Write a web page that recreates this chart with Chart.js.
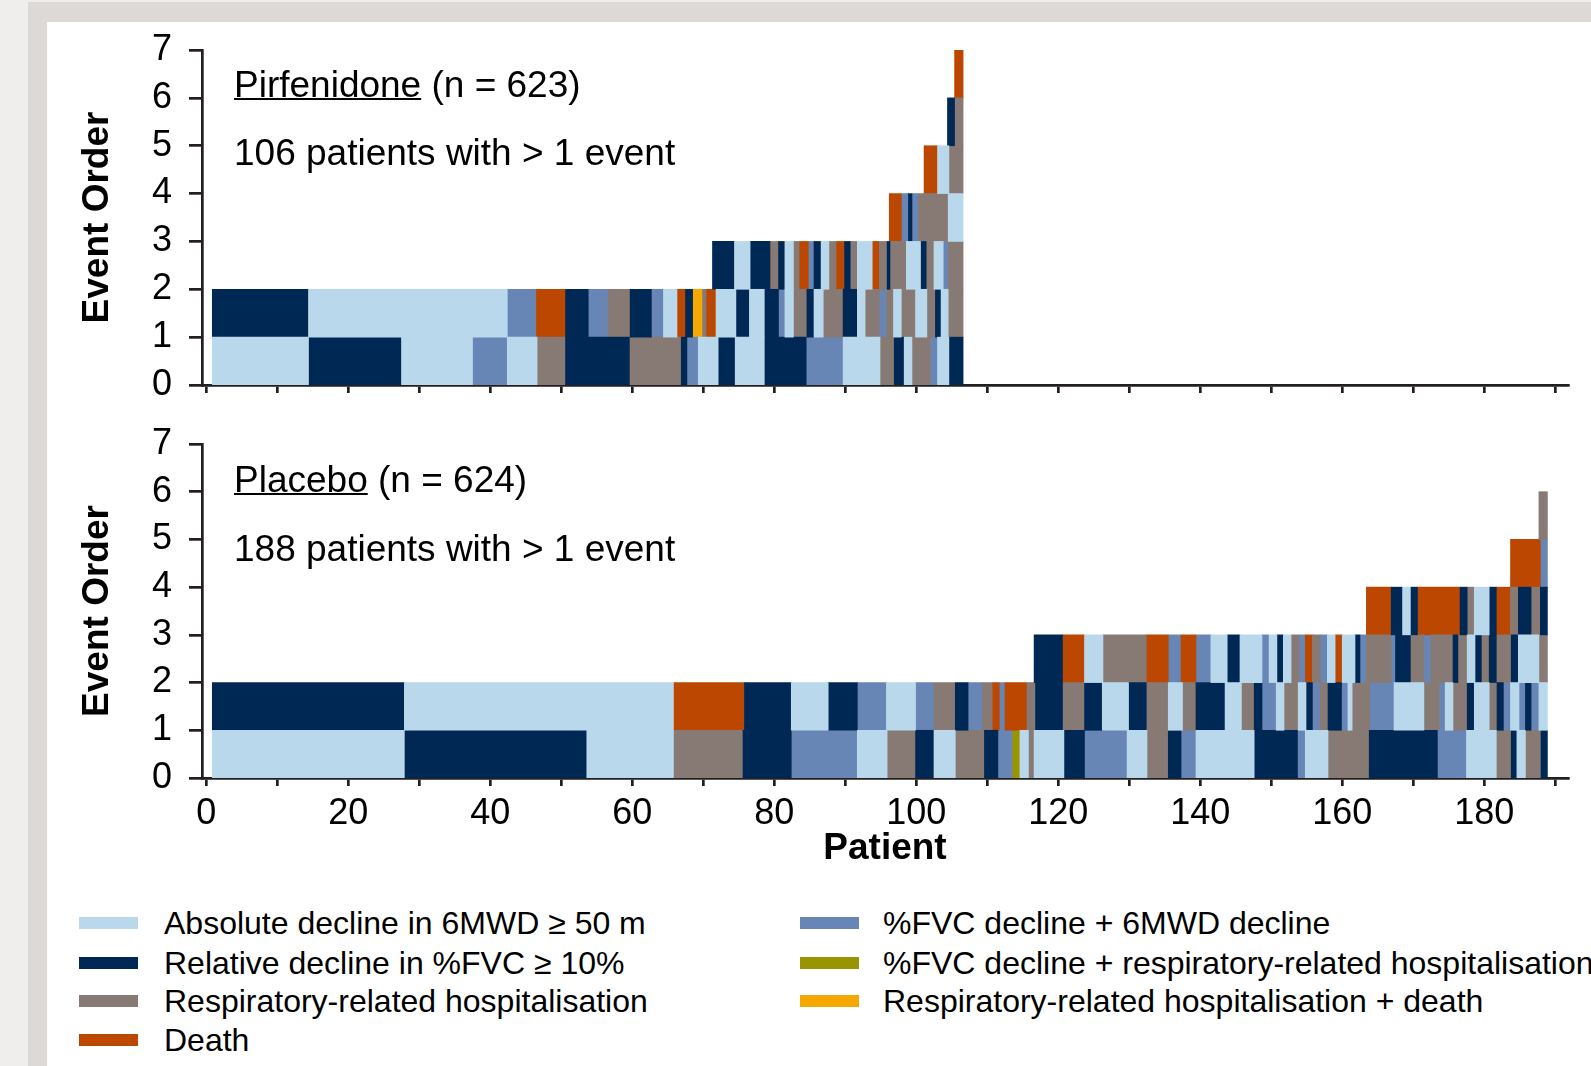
<!DOCTYPE html>
<html>
<head>
<meta charset="utf-8">
<script src="https://cdn.jsdelivr.net/npm/chart.js@4/dist/chart.umd.min.js"></script>
<style>
  html, body { margin: 0; padding: 0; }
  body { width: 1591px; height: 1066px; position: relative; overflow: hidden; background: #F0EEED;
         font-family: "Liberation Sans", Arial, sans-serif; color: #000; }
  #frame { position: absolute; left: 28px; top: 2px; right: 0; bottom: 0; background: #DDD9D6; }
  #panel { position: absolute; left: 47px; top: 22px; right: 0; bottom: 0; background: #fff; }
  .box { position: absolute; left: 0; width: 1591px; }
  .note { position: absolute; font-size: 37px; line-height: 37px; white-space: nowrap; }
  .note u { text-decoration-thickness: 2px; }
  .leg { position: absolute; font-size: 32px; line-height: 32px; white-space: nowrap; }
  .sw { position: absolute; width: 59px; height: 12px; }
</style>
</head>
<body>
<div id="frame"></div>
<div id="panel"></div>
<div class="box" style="top:0;height:430px"><canvas id="chart-pirf"></canvas></div>
<div class="box" style="top:400px;height:480px"><canvas id="chart-plac"></canvas></div>
<div class="note" style="left:234px;top:66px"><u>Pirfenidone</u> (n = 623)</div>
<div class="note" style="left:234px;top:134px">106 patients with &gt; 1 event</div>
<div class="note" style="left:234px;top:461px"><u>Placebo</u> (n = 624)</div>
<div class="note" style="left:234px;top:530px">188 patients with &gt; 1 event</div>
<div id="legend"></div>
<script>
const FONT = '"Liberation Sans", Arial, sans-serif';
const INK = '#231F20';

// event types: A 6MWD, F %FVC, H hospitalisation, D death, M FVC+6MWD, O FVC+hosp, Y hosp+death
const eventTypes = ['A', 'F', 'H', 'D', 'M', 'O', 'Y'];
const eventLabels = [
  'Absolute decline in 6MWD \u2265 50 m',
  'Relative decline in %FVC \u2265 10%',
  'Respiratory-related hospitalisation',
  'Death',
  '%FVC decline + 6MWD decline',
  '%FVC decline + respiratory-related hospitalisation',
  'Respiratory-related hospitalisation + death'
];
const eventColors = ['#B9D8EB', '#002855', '#877A75', '#BB4700', '#6886B5', '#989500', '#F5A800'];

// Pirfenidone: segment edges (patient axis) per event order, and the type of each segment
const pirfEdges = [
  [0.85, 14.4, 27.5, 37.5, 42.4, 46.6, 50.6, 59.6, 66.9, 67.7, 69.3, 72.1, 74.5, 78.6, 84.5, 89.7, 94.9, 96.9, 98.3, 99.4, 102.0, 103.0, 104.6, 106.6],
  [0.85, 14.4, 42.4, 46.5, 50.6, 53.8, 56.6, 59.7, 62.7, 64.4, 66.3, 67.5, 68.5, 69.9, 70.4, 71.8, 74.6, 76.5, 78.6, 80.6, 81.5, 82.7, 84.6, 85.6, 86.9, 89.7, 91.7, 92.8, 94.8, 95.8, 96.8, 97.9, 99.9, 101.5, 102.7, 103.5, 104.5, 106.6],
  [71.3, 74.4, 76.6, 79.4, 80.6, 81.5, 82.7, 83.5, 84.8, 85.6, 86.6, 87.7, 88.7, 89.9, 90.7, 91.7, 93.8, 94.8, 95.9, 96.3, 98.6, 100.6, 101.4, 102.5, 103.8, 104.5, 106.6],
  [96.2, 97.9, 98.9, 99.4, 100.3, 104.5, 106.6],
  [101.1, 103.0, 104.6, 106.6],
  [104.4, 105.4, 106.6],
  [105.4, 106.6]
];
const pirfTypes = [
  'AFAMAHFHFMAFAFMAHFAHMAF',
  'FAMDFMHFMADFYHDAFAFMAHFAHFAHMHAHAHFAH',
  'FAFHFAHDMFAHDFHADHFHAFHAMH',
  'DMFMHA',
  'DAH',
  'FH',
  'D'
];

// Placebo
const placEdges = [
  [0.85, 27.9, 53.6, 65.8, 75.6, 82.4, 91.7, 95.9, 99.9, 102.5, 105.5, 109.6, 111.5, 113.5, 114.6, 115.8, 116.6, 120.8, 123.7, 129.7, 132.5, 135.5, 137.3, 139.4, 147.6, 153.7, 154.8, 158.0, 163.8, 173.4, 177.5, 181.7, 183.8, 184.6, 185.8, 188.0, 188.9],
  [0.85, 27.9, 65.8, 75.8, 82.4, 87.6, 91.7, 95.8, 99.9, 102.5, 105.5, 107.3, 109.3, 110.7, 111.7, 112.5, 115.6, 116.8, 120.6, 123.7, 126.2, 129.9, 132.4, 135.5, 137.5, 139.4, 143.5, 145.8, 147.6, 148.7, 150.7, 151.8, 153.8, 154.9, 155.8, 156.9, 158.0, 159.9, 160.8, 161.4, 163.9, 167.3, 171.5, 173.7, 174.5, 175.6, 177.6, 178.6, 180.7, 181.8, 182.7, 183.7, 184.9, 185.8, 186.6, 187.7, 188.9],
  [116.6, 120.6, 123.7, 126.3, 132.4, 135.5, 137.3, 139.4, 141.5, 143.8, 145.6, 148.7, 149.7, 150.8, 151.7, 152.8, 153.9, 154.8, 155.8, 156.9, 157.9, 159.0, 160.0, 161.8, 162.5, 163.4, 166.9, 167.5, 169.6, 171.5, 172.5, 175.6, 176.3, 177.6, 178.7, 179.6, 180.7, 181.7, 183.8, 184.8, 187.7, 188.9],
  [163.4, 166.9, 168.5, 169.6, 170.6, 176.6, 177.6, 178.6, 180.7, 181.7, 183.7, 184.8, 186.6, 187.9, 188.9],
  [183.7, 187.9, 188.9],
  [187.7, 188.9]
];
const placTypes = [
  'AFAHFMAHFAHFMOAHAFMAHFMAFMAHFMAHFAHF',
  'FADFAFMAMHFMHDMDHFHFAFHAHFAHFMAHAFMHFMAHMAHMAHFAHFMAMFMA',
  'FDAHDMDMAFAMAFAHMDHMADAFMHMFHMHFHAFHFHFAH',
  'DFAFDFHAFDHFHF',
  'DM',
  'H'
];

const yTickValues = [0, 1, 2, 3, 4, 5, 6, 7];
const xTickValues = [0, 10, 20, 30, 40, 50, 60, 70, 80, 90, 100, 110, 120, 130, 140, 150, 160, 170, 180, 190];
const xTickLabels = ['0', '', '20', '', '40', '', '60', '', '80', '', '100', '', '120', '', '140', '', '160', '', '180', ''];

function buildDatasets(edges, types) {
  return eventTypes.map((code, k) => {
    const data = [];
    edges.forEach((rowEdges, row) => {
      types[row].split('').forEach((t, i) => {
        if (t === code) data.push({ x: [rowEdges[i], rowEdges[i + 1]], y: row + 0.5 });
      });
    });
    return {
      label: eventLabels[k], data,
      backgroundColor: eventColors[k], borderWidth: 0,
      barPercentage: 1, categoryPercentage: 1, grouped: false
    };
  });
}

function makeChart(id, edges, types, opts) {
  return new Chart(document.getElementById(id).getContext('2d'), {
    type: 'bar',
    data: { datasets: buildDatasets(edges, types) },
    options: {
      indexAxis: 'y',
      responsive: true,
      maintainAspectRatio: false,
      animation: false,
      layout: { padding: { top: opts.padTop, right: 23, left: 0, bottom: 0 } },
      plugins: { legend: { display: false }, tooltip: { enabled: false } },
      scales: {
        y: {
          type: 'linear', min: 0, max: 7, offset: false,
          afterBuildTicks: s => { s.ticks = yTickValues.map(v => ({ value: v })); },
          afterFit: s => { s.width = 202; },
          ticks: { font: { family: FONT, size: 36 }, color: '#000', padding: 17 },
          grid: { offset: false, drawOnChartArea: false, drawTicks: true, tickLength: 13, color: INK, lineWidth: 2.7 },
          border: { display: true, color: INK, width: 2.7 },
          title: {
            display: true, text: 'Event Order', color: '#000',
            font: { family: FONT, size: 37, weight: 'bold' }, padding: { top: 76, bottom: 0 }
          }
        },
        x: {
          type: 'linear', min: -0.6, max: 191.8,
          afterBuildTicks: s => { s.ticks = xTickValues.map(v => ({ value: v })); },
          afterFit: s => { s.height = opts.xHeight; },
          ticks: {
            font: { family: FONT, size: 36 }, color: '#000', padding: 6,
            autoSkip: false, maxRotation: 0,
            callback: v => opts.showLabels ? xTickLabels[xTickValues.indexOf(v)] : ''
          },
          grid: { drawOnChartArea: false, drawTicks: true, tickLength: 8, color: INK, lineWidth: 2.7 },
          border: { display: true, color: INK, width: 2.7 },
          title: {
            display: opts.showLabels, text: 'Patient', color: '#000',
            font: { family: FONT, size: 37, weight: 'bold' }, padding: { top: 0, bottom: 9 }
          }
        }
      }
    }
  });
}

makeChart('chart-pirf', pirfEdges, pirfTypes, { padTop: 50, xHeight: 45, showLabels: false });
makeChart('chart-plac', placEdges, placTypes, { padTop: 44, xHeight: 102, showLabels: true });

// legend: two columns, filled column by column
const legendRows = [923, 963, 1001, 1040];
const legendCols = [{ sw: 79, tx: 164 }, { sw: 800, tx: 883 }];
const legend = document.getElementById('legend');
eventLabels.forEach((label, k) => {
  const col = legendCols[k < 4 ? 0 : 1];
  const cy = legendRows[k < 4 ? k : k - 4];
  const sw = document.createElement('div');
  sw.className = 'sw';
  sw.style.left = col.sw + 'px';
  sw.style.top = (cy - 6) + 'px';
  sw.style.background = eventColors[k];
  const tx = document.createElement('div');
  tx.className = 'leg';
  tx.style.left = col.tx + 'px';
  tx.style.top = (cy - 16) + 'px';
  tx.textContent = label;
  legend.appendChild(sw);
  legend.appendChild(tx);
});
</script>
</body>
</html>
